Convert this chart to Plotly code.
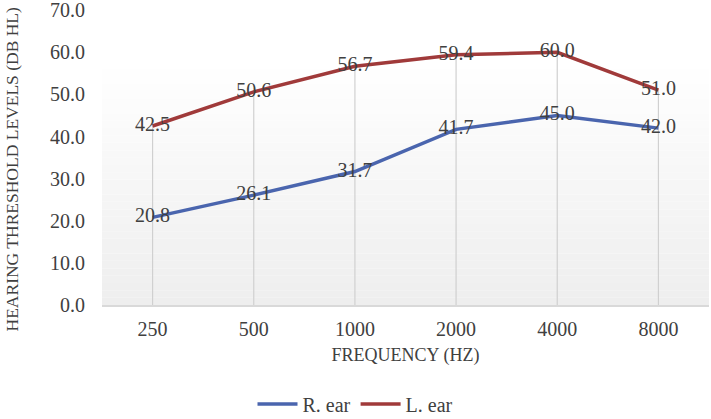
import plotly.graph_objects as go

categories = ["250", "500", "1000", "2000", "4000", "8000"]
r_ear = [20.8, 26.1, 31.7, 41.7, 45.0, 42.0]
l_ear = [42.5, 50.6, 56.7, 59.4, 60.0, 51.0]
y_ticks = [0, 10, 20, 30, 40, 50, 60, 70]

FONT = "Liberation Serif"
TXT = "#404040"
BLUE = "#4a65ae"
RED = "#a03a3a"
FS = 20

fig = go.Figure()

# drop lines from top series to axis
dx, dy = [], []
for c, a, b in zip(categories, r_ear, l_ear):
    dx += [c, c, None]
    dy += [0, max(a, b), None]
fig.add_trace(go.Scatter(x=dx, y=dy, mode="lines", line=dict(color="#d0d0d0", width=1.2),
                         showlegend=False, hoverinfo="skip"))

fig.add_trace(go.Scatter(x=categories, y=r_ear, mode="lines+text", name="R. ear",
                         line=dict(color=BLUE, width=3.5),
                         text=[f"{v:.1f}" for v in r_ear], textposition="middle center",
                         textfont=dict(family=FONT, size=FS, color=TXT)))
fig.add_trace(go.Scatter(x=categories, y=l_ear, mode="lines+text", name="L. ear",
                         line=dict(color=RED, width=3.5),
                         text=[f"{v:.1f}" for v in l_ear], textposition="middle center",
                         textfont=dict(family=FONT, size=FS, color=TXT)))

# gradient background for plot area
shapes = []
n = 40
for i in range(n):
    t = i / (n - 1)  # 0 bottom -> 1 top
    g = 0xee + (0xff - 0xee) * min(1.0, t * 1.2)
    g = int(round(g))
    col = f"rgb({g},{g},{g})"
    shapes.append(dict(type="rect", xref="paper", yref="paper", x0=0, x1=1,
                       y0=i / n, y1=(i + 1) / n, fillcolor=col, line=dict(width=0),
                       layer="below"))

fig.update_layout(
    width=711, height=419,
    margin=dict(l=102, r=2, t=10, b=114),
    paper_bgcolor="white", plot_bgcolor="white",
    shapes=shapes,
    font=dict(family=FONT, size=FS, color=TXT),
    xaxis=dict(type="category", range=[-0.5, 5.5], showgrid=False, zeroline=False,
               showline=True, linecolor="#d9d9d9", linewidth=1.5, ticks="",
               automargin=False, ticklabelstandoff=5,
               tickfont=dict(family=FONT, size=FS, color=TXT),
               title=dict(text="FREQUENCY (HZ)", font=dict(family=FONT, size=18, color=TXT), standoff=10)),
    yaxis=dict(range=[0, 70.05], tickvals=y_ticks, tickformat=".1f", showgrid=False,
               zeroline=False, showline=False, ticks="", automargin=False,
               ticklabelstandoff=16, ticklabeloverflow="allow",
               tickfont=dict(family=FONT, size=FS, color=TXT)),
    legend=dict(orientation="h", xref="container", yref="container", x=0.5, xanchor="center",
                y=0.036, yanchor="middle", font=dict(family=FONT, size=FS, color=TXT),
                itemwidth=40),
    annotations=[dict(text="HEARING THRESHOLD LEVELS (DB HL)", textangle=-90,
                      xref="paper", yref="paper", x=0, y=0.5, xanchor="center", yanchor="middle",
                      xshift=-91, yshift=-12, showarrow=False,
                      font=dict(family=FONT, size=17.5, color=TXT))],
)

fig.write_html("out.html", config={"displayModeBar": False},
               post_script="document.body.style.margin='0';")
